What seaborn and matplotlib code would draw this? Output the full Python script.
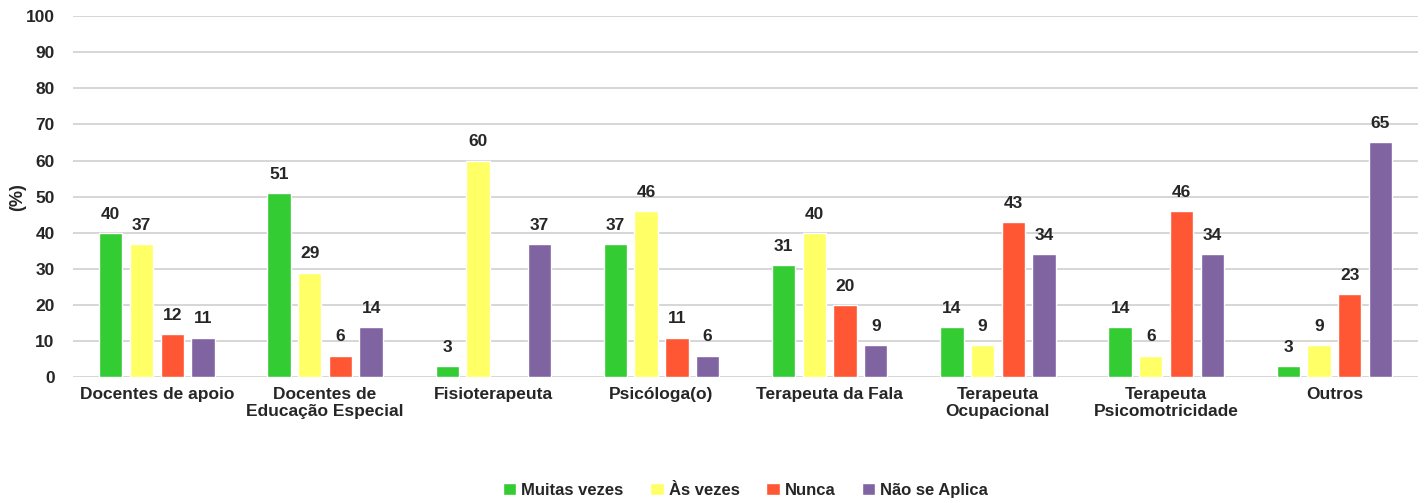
import numpy as np
import pandas as pd
import seaborn as sns
import matplotlib.pyplot as plt

#%% data
categories = ["Docentes de apoio", "Docentes de\nEducação Especial", "Fisioterapeuta",
              "Psicóloga(o)", "Terapeuta da Fala", "Terapeuta\nOcupacional",
              "Terapeuta\nPsicomotricidade", "Outros"]
series = ["Muitas vezes", "Às vezes", "Nunca", "Não se Aplica"]
muitas_vezes = [40, 51, 3, 37, 31, 14, 14, 3]
as_vezes = [37, 29, 60, 46, 40, 9, 6, 9]
nunca = [12, 6, np.nan, 11, 20, 43, 46, 23]
nao_aplica = [11, 14, 37, 6, 9, 34, 34, 65]
colors = ["#33CC33", "#FFFF66", "#FF5733", "#8064A2"]

df = pd.DataFrame({"cat": categories * 4,
                   "serie": np.repeat(series, len(categories)),
                   "val": muitas_vezes + as_vezes + nunca + nao_aplica})

#%% plot
sns.set_style("white")
plt.rcParams["font.family"] = ["Liberation Sans", "DejaVu Sans"]
plt.rcParams["font.weight"] = "bold"

fig, ax = plt.subplots(figsize=(14.27, 5.03), dpi=100)
sns.barplot(data=df, x="cat", y="val", hue="serie", palette=colors,
            width=0.73, gap=0.24, ax=ax, saturation=1)

for cont in ax.containers:
    labels = ["" if np.isnan(v) else f"{v:.0f}" for v in cont.datavalues]
    ax.bar_label(cont, labels=labels, padding=8, fontsize=12.5, fontweight="bold")

ax.set_ylim(0, 100)
ax.set_yticks(range(0, 101, 10))
ax.set_xlim(-0.5, len(categories) - 0.5)
ax.yaxis.grid(True, color="#d0d0d0", lw=1.2)
ax.set_axisbelow(True)
for s in ax.spines.values():
    s.set_visible(False)
ax.set_xlabel("")
ax.set_ylabel("(%)", fontsize=13, fontweight="bold", labelpad=0)
ax.tick_params(axis="both", length=0, labelsize=12.5)
ax.tick_params(axis="x", pad=7)
ax.tick_params(axis="y", pad=13)
for t in ax.get_xticklabels() + ax.get_yticklabels():
    t.set_fontweight("bold")

leg = ax.legend(loc="upper center", bbox_to_anchor=(0.5, -0.25), ncol=4, frameon=False,
                fontsize=12, handlelength=0.8, handleheight=0.8, handletextpad=0.3,
                columnspacing=1.6)
for t in leg.get_texts():
    t.set_fontweight("bold")

fig.subplots_adjust(left=0.051, right=0.994, top=0.968, bottom=0.25)
fig.savefig("out.png")
